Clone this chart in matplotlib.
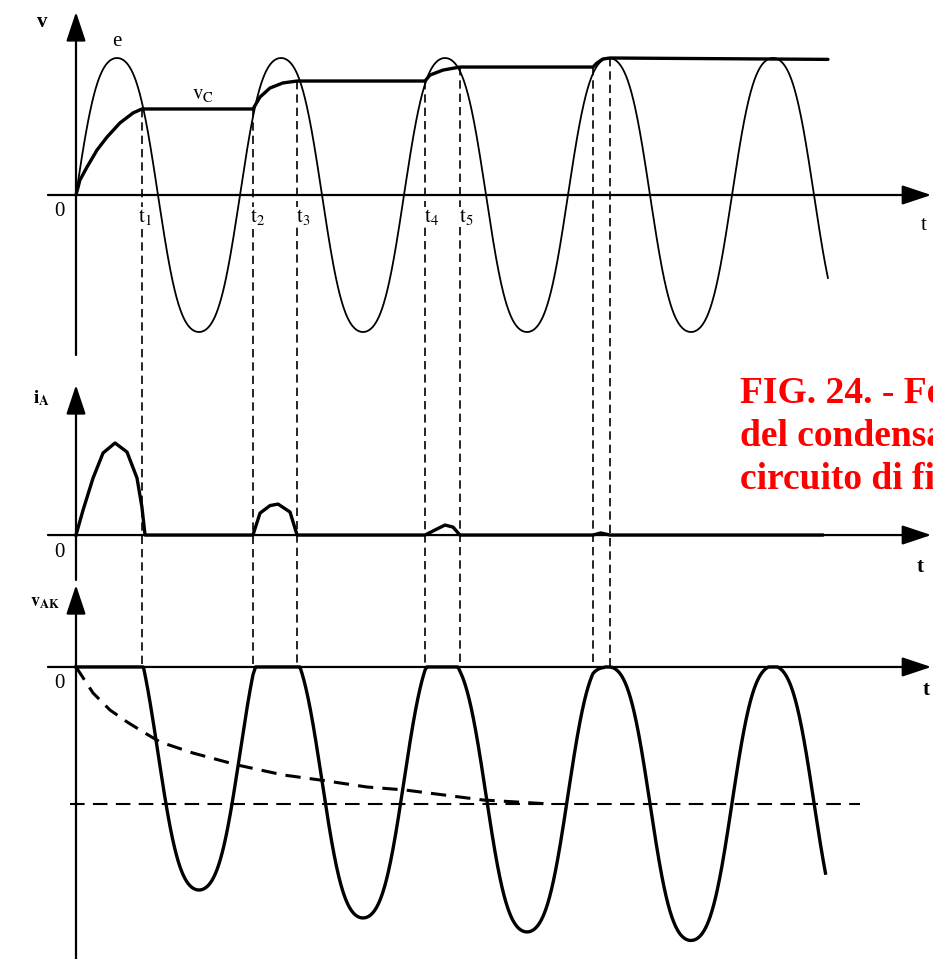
import matplotlib.pyplot as plt
import numpy as np

plt.rcParams['font.family'] = ['Liberation Serif', 'DejaVu Serif']
plt.rcParams['mathtext.fontset'] = 'stix'

# time in periods of e, voltages in units of the peak Em
E_FLAT = 0.06      # the drawn humps are a little fuller than a pure sine
E_END = 4.585
VAK_END = 4.57

# capacitor voltage vc (charging pieces, flat in between)
vc_t = [0.0, 0.024, 0.067, 0.128, 0.189, 0.268, 0.348, 0.402,
        1.079, 1.122, 1.183, 1.262, 1.348,
        2.128, 2.159, 2.238, 2.341,
        3.152, 3.177, 3.213, 3.256,
        4.585]
vc_v = [0.0, 0.109, 0.204, 0.328, 0.423, 0.526, 0.599, 0.628,
        0.628, 0.715, 0.781, 0.818, 0.832,
        0.832, 0.876, 0.912, 0.934,
        0.934, 0.964, 0.993, 1.0,
        0.99]

# diode current pulses i_A
ia_t = [0.0, 0.043, 0.104, 0.165, 0.238, 0.311, 0.372, 0.402, 0.421,
        1.079, 1.122, 1.183, 1.232, 1.305, 1.348,
        2.128, 2.201, 2.25, 2.299, 2.341,
        3.152, 3.2, 3.256, 4.55]
ia_v = [0.0, 0.182, 0.416, 0.599, 0.672, 0.606, 0.416, 0.204, 0.0,
        0.0, 0.160, 0.215, 0.226, 0.168, 0.0,
        0.0, 0.044, 0.073, 0.058, 0.0,
        0.0, 0.015, 0.0, 0.0]

# mean value of v_AK (dashed curve) and its final level
vmean_t = [0.0, 0.104, 0.207, 0.311, 0.409, 0.512, 0.713, 0.982, 1.262,
           1.488, 1.774, 2.006, 2.482, 2.890]
vmean_v = [0.0, -0.190, -0.314, -0.401, -0.474, -0.547, -0.628, -0.715,
           -0.788, -0.825, -0.876, -0.898, -0.971, -1.0]
VMEAN_FINAL = -1.0

# switching instants of the diode
t_switch = [0.402, 1.079, 1.348, 2.128, 2.341, 3.152, 3.256]
switch_names = ['$\\mathrm{t_1}$', '$\\mathrm{t_2}$', '$\\mathrm{t_3}$',
                '$\\mathrm{t_4}$', '$\\mathrm{t_5}$']
name_pos = [0.42, 1.11, 1.384, 2.165, 2.378]

# zero lines of the three traces (stacked on one axes)
BASE_V = 0.0
BASE_I = -2.482
BASE_AK = -3.445

caption = ['FIG. 24. - Fo', 'del condensa', 'circuito di fi']

fig = plt.figure(figsize=(9.33, 9.59), dpi=100)
ax = fig.add_axes([0, 0, 1, 1])
ax.set_xlim(-0.4634, 5.2256)
ax.set_ylim(-5.5766, 1.4234)
ax.axis('off')

k = 'black'

def e_of(t):
    w = 2 * np.pi * t
    return (np.sin(w) + E_FLAT * np.sin(3 * w)) / (1 - E_FLAT)

# axes with arrows
def arrow(x0, y0, x1, y1):
    ax.annotate('', xy=(x1, y1), xytext=(x0, y0), annotation_clip=False,
                arrowprops=dict(arrowstyle='-|>,head_length=0.9,head_width=0.3',
                                mutation_scale=20, lw=1.6, color=k,
                                shrinkA=0, shrinkB=0))

arrow(0, -1.168, 0, 1.336)
arrow(-0.171, BASE_V, 5.215, BASE_V)
arrow(0, -2.810, 0, -1.387)
arrow(-0.171, BASE_I, 5.215, BASE_I)
arrow(0, -5.58, 0, -2.847)
arrow(-0.171, BASE_AK, 5.215, BASE_AK)

# top: e and vc
t = np.linspace(0, E_END, 2000)
e = e_of(t)
ax.plot(t, BASE_V + e, color=k, lw=1.3)
ax.plot(vc_t, BASE_V + np.array(vc_v), color=k, lw=2.4, solid_capstyle='round')

# middle: diode current
ax.plot(ia_t, BASE_I + np.array(ia_v), color=k, lw=2.4, solid_joinstyle='round')

# bottom: vAK = e - vc when the diode is off
ta = np.linspace(0, VAK_END, 2000)
vak = np.minimum(e_of(ta) - np.interp(ta, vc_t, vc_v), 0)
ax.plot(ta, BASE_AK + vak, color=k, lw=2.4)
ax.plot(vmean_t, BASE_AK + np.array(vmean_v), color=k, lw=2.2,
        dashes=(5, 3))
ax.plot([-0.037, 4.78], [BASE_AK + VMEAN_FINAL] * 2, color=k, lw=1.5,
        dashes=(7, 4))

# vertical dashed lines at the switching instants
for ts in t_switch:
    top = np.interp(ts, vc_t, vc_v)
    ax.plot([ts, ts], [BASE_V + top, BASE_AK], color=k, lw=1.2, dashes=(5, 3))

# labels
fs = 15
ax.text(-0.207, 1.263, 'v', fontsize=fs, weight='bold', ha='center', va='center')
ax.text(0.25, 1.117, 'e', fontsize=fs, ha='center', va='center')
ax.text(0.774, 0.730, '$\\mathrm{v_C}$', fontsize=fs, ha='center', va='center')
for lab, xp in zip(switch_names, name_pos):
    ax.text(xp, -0.16, lab, fontsize=fs, ha='center', va='center', zorder=5,
            bbox=dict(fc='white', ec='none', pad=0.3))
ax.text(-0.207, -1.482, '$\\mathbf{i_A}$', fontsize=fs - 1, ha='center', va='center')
ax.text(-0.19, -2.978, '$\\mathbf{v_{AK}}$', fontsize=fs - 2, ha='center', va='center')
for base in (BASE_V, BASE_I, BASE_AK):
    ax.text(-0.098, base - 0.124, '0', fontsize=fs, ha='center', va='center')
ax.text(5.171, -0.226, 't', fontsize=fs, ha='center', va='center')
ax.text(5.146, BASE_I - 0.233, 't', fontsize=fs, weight='bold', ha='center', va='center')
ax.text(5.183, BASE_AK - 0.168, 't', fontsize=fs, weight='bold', ha='center', va='center')

for i, line in enumerate(caption):
    fig.text(740 / 933, 1 - (403 + 43 * i) / 959, line, color='red',
             fontsize=27, weight='bold', ha='left', va='baseline')

fig.savefig('out.png', dpi=100)
